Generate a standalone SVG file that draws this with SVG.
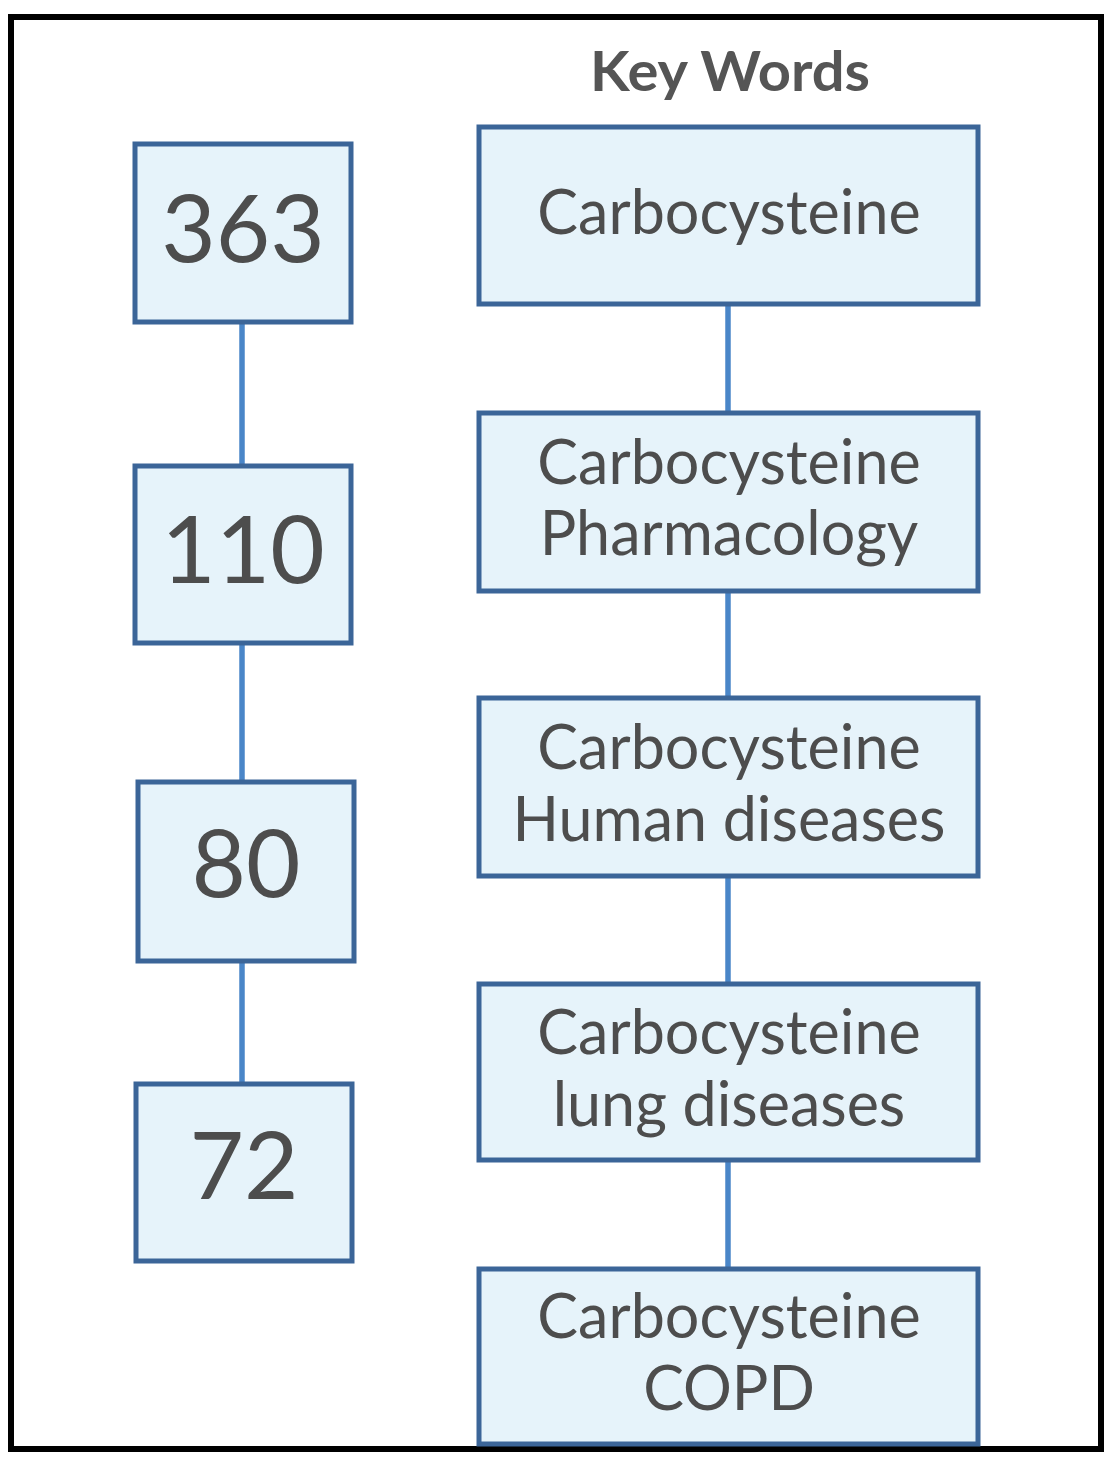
<svg xmlns="http://www.w3.org/2000/svg" width="1119" height="1470" viewBox="0 0 1119 1470">
<style>
.box{fill:#e6f3fa;stroke:#3b6598;stroke-width:5}
.conn{stroke:#4a86c8;stroke-width:5.5;fill:none}
.num{font-family:Lato,"Open Sans",sans-serif;font-size:94px;fill:#4d4d4d;text-anchor:middle}
.kw{font-family:Lato,"Open Sans",sans-serif;font-size:61px;fill:#4d4d4d;text-anchor:middle}
.title{font-family:Lato,"Open Sans",sans-serif;font-size:55px;font-weight:bold;fill:#555555;text-anchor:middle}
</style>
<rect x="0" y="0" width="1119" height="1470" fill="#ffffff"/>
<rect x="11" y="17" width="1090" height="1432" fill="none" stroke="#000000" stroke-width="6"/>
<text class="title" x="730" y="91" textLength="280" lengthAdjust="spacingAndGlyphs">Key Words</text>
<g id="connectors">
<line class="conn" x1="242" y1="322" x2="242" y2="466"/>
<line class="conn" x1="242" y1="643" x2="242" y2="782"/>
<line class="conn" x1="242" y1="960" x2="242" y2="1084"/>
<line class="conn" x1="728" y1="304" x2="728" y2="413"/>
<line class="conn" x1="728" y1="591" x2="728" y2="698"/>
<line class="conn" x1="728" y1="876" x2="728" y2="984"/>
<line class="conn" x1="728" y1="1160" x2="728" y2="1269"/>
</g>
<g id="n363"><rect class="box" x="135" y="144" width="216" height="178"/><text class="num" x="243" y="262">363</text></g>
<g id="n110"><rect class="box" x="135" y="466" width="216" height="177"/><text class="num" x="243" y="583">110</text></g>
<g id="n80"><rect class="box" x="138" y="782" width="216" height="179"/><text class="num" x="246" y="897">80</text></g>
<g id="n72"><rect class="box" x="136" y="1084" width="216" height="177"/><text class="num" x="244" y="1199">72</text></g>
<g id="k1"><rect class="box" x="479" y="127" width="499" height="177"/><text class="kw" x="729" y="234">Carbocysteine</text></g>
<g id="k2"><rect class="box" x="479" y="413" width="499" height="178"/><text class="kw" x="729" y="484">Carbocysteine</text><text class="kw" x="729" y="555">Pharmacology</text></g>
<g id="k3"><rect class="box" x="479" y="698" width="499" height="178"/><text class="kw" x="729" y="769">Carbocysteine</text><text class="kw" x="729" y="841">Human diseases</text></g>
<g id="k4"><rect class="box" x="479" y="984" width="499" height="176"/><text class="kw" x="729" y="1054">Carbocysteine</text><text class="kw" x="729" y="1126">lung diseases</text></g>
<g id="k5"><rect class="box" x="479" y="1269" width="499" height="175"/><text class="kw" x="729" y="1338">Carbocysteine</text><text class="kw" x="729" y="1410">COPD</text></g>
</svg>
